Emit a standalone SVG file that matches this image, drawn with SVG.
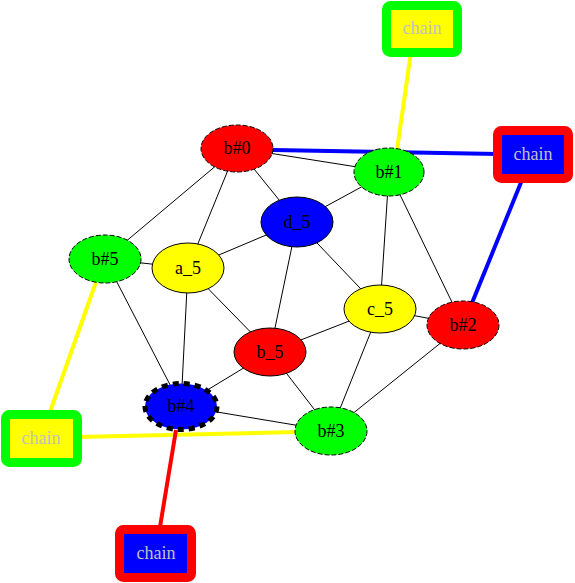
<svg xmlns="http://www.w3.org/2000/svg" width="575" height="583" viewBox="0 0 575 583">
<style>
text{font-family:"Liberation Serif","Times New Roman",serif;font-size:18px;text-anchor:middle}
.lbl{fill:#000}
.ch{fill:#c0c0c0}
.e{stroke:#000;stroke-width:1;fill:none}
.n{stroke:#000;stroke-width:1}
.t{stroke-width:4;fill:none}
.dn{stroke:#000;stroke-width:1;stroke-dasharray:5,2}
</style>
<rect width="575" height="583" fill="#fff"/>
<g id="edges">
<line class="e" x1="237" y1="148" x2="389" y2="172"/>
<line class="e" x1="237" y1="148" x2="297" y2="222"/>
<line class="e" x1="237" y1="148" x2="188" y2="268"/>
<line class="e" x1="237" y1="148" x2="105" y2="259"/>
<line class="e" x1="389" y1="172" x2="297" y2="222"/>
<line class="e" x1="389" y1="172" x2="380" y2="309"/>
<line class="e" x1="389" y1="172" x2="463" y2="325"/>
<line class="e" x1="297" y1="222" x2="188" y2="268"/>
<line class="e" x1="297" y1="222" x2="380" y2="309"/>
<line class="e" x1="297" y1="222" x2="270" y2="352"/>
<line class="e" x1="105" y1="259" x2="188" y2="268"/>
<line class="e" x1="105" y1="259" x2="181" y2="406"/>
<line class="e" x1="188" y1="268" x2="270" y2="352"/>
<line class="e" x1="188" y1="268" x2="181" y2="406"/>
<line class="e" x1="380" y1="309" x2="270" y2="352"/>
<line class="e" x1="380" y1="309" x2="463" y2="325"/>
<line class="e" x1="380" y1="309" x2="331" y2="431"/>
<line class="e" x1="270" y1="352" x2="181" y2="406"/>
<line class="e" x1="270" y1="352" x2="331" y2="431"/>
<line class="e" x1="181" y1="406" x2="331" y2="431"/>
<line class="e" x1="463" y1="325" x2="331" y2="431"/>
<line class="t" stroke="#ffff00" x1="397" y1="150" x2="411" y2="52"/>
<line class="t" stroke="#0000ff" x1="273" y1="150" x2="498" y2="154"/>
<line class="t" stroke="#0000ff" x1="522" y1="180" x2="472" y2="303"/>
<line class="t" stroke="#ffff00" x1="96" y1="282" x2="50" y2="412"/>
<line class="t" stroke="#ffff00" x1="78" y1="437" x2="296" y2="432"/>
<line class="t" stroke="#ff0000" x1="176" y1="430" x2="160" y2="527"/>
</g>
<g id="chain_top"><rect x="386.5" y="5.5" width="71" height="47" rx="4" fill="#ffff00" stroke="#00ff00" stroke-width="9"/><text class="ch" x="422" y="34">chain</text></g>
<g id="chain_right"><rect x="497.5" y="130.5" width="71" height="48" rx="4" fill="#0000ff" stroke="#ff0000" stroke-width="9"/><text class="ch" x="533" y="160">chain</text></g>
<g id="chain_left"><rect x="5.5" y="414.5" width="72" height="48" rx="4" fill="#ffff00" stroke="#00ff00" stroke-width="9"/><text class="ch" x="41" y="444">chain</text></g>
<g id="chain_bottom"><rect x="119.5" y="529.5" width="72" height="48" rx="4" fill="#0000ff" stroke="#ff0000" stroke-width="9"/><text class="ch" x="156" y="559">chain</text></g>
<g id="b0"><ellipse class="dn" cx="237" cy="148.5" rx="36" ry="23.5" fill="#ff0000"/><text class="lbl" x="237" y="154">b#0</text></g>
<g id="b1"><ellipse class="dn" cx="389" cy="172" rx="35" ry="24" fill="#00ff00"/><text class="lbl" x="389" y="178">b#1</text></g>
<g id="d5"><ellipse class="n" cx="297" cy="222" rx="36" ry="25" fill="#0000ff"/><text class="lbl" x="297" y="228">d_5</text></g>
<g id="b5"><ellipse class="dn" cx="105" cy="259" rx="36" ry="24" fill="#00ff00"/><text class="lbl" x="105" y="265">b#5</text></g>
<g id="a5"><ellipse class="n" cx="188" cy="268" rx="36" ry="25" fill="#ffff00"/><text class="lbl" x="188" y="274">a_5</text></g>
<g id="c5"><ellipse class="n" cx="380" cy="309" rx="36" ry="24" fill="#ffff00"/><text class="lbl" x="380" y="315">c_5</text></g>
<g id="b2"><ellipse class="dn" cx="463" cy="325" rx="36" ry="24" fill="#ff0000"/><text class="lbl" x="463" y="331">b#2</text></g>
<g id="b_5"><ellipse class="n" cx="270" cy="352" rx="36" ry="24" fill="#ff0000"/><text class="lbl" x="270" y="358">b_5</text></g>
<g id="b4"><ellipse cx="181" cy="406.5" rx="36" ry="23" fill="#0000ff" stroke="#000" stroke-width="5" stroke-dasharray="6,5"/><text class="lbl" x="181" y="412">b#4</text></g>
<g id="b3"><ellipse class="dn" cx="331" cy="431" rx="36" ry="24" fill="#00ff00"/><text class="lbl" x="331" y="437">b#3</text></g>
</svg>
